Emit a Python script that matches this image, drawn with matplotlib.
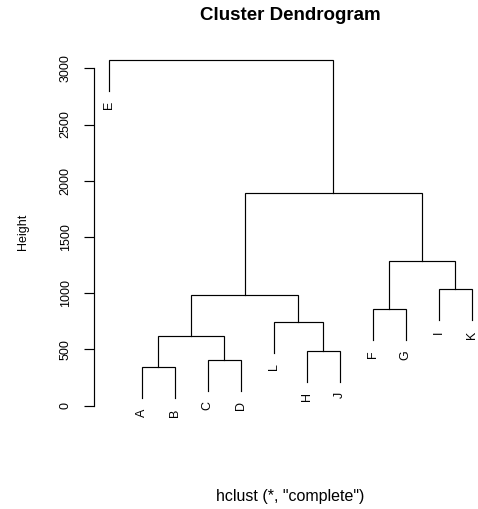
import matplotlib
matplotlib.use("Agg")
import matplotlib.pyplot as plt

# leaves in the order they are drawn, left to right
leaf_labels = ["E", "A", "B", "C", "D", "L", "H", "J", "F", "G", "I", "K"]

# merges (complete linkage), in order of height
merge_left = ["A", "C", "H", "AB", "L", "F", "ABCD", "I", "FG", "ABCDLHJ", "E"]
merge_right = ["B", "D", "J", "CD", "HJ", "G", "LHJ", "K", "IK", "FGIK", "ABCDLHJFGIK"]
merge_height = [341, 404, 486, 620, 744, 857, 982, 1035, 1287, 1891, 3074]

y_ticks = [0, 500, 1000, 1500, 2000, 2500, 3000]

plt.rcParams["font.family"] = ["Liberation Sans", "DejaVu Sans"]

W, H = 478, 509
fig = plt.figure(figsize=(W / 100, H / 100), dpi=100)
# axes area in pixels (left, right, top, bottom) -- right edge runs past the figure like the original
left_px, right_px, top_px, bot_px = 94.3, 486.2, 50, 420
ax = fig.add_axes([left_px / W, 1 - bot_px / H, (right_px - left_px) / W, (bot_px - top_px) / H])

hang = 0.1 * (max(merge_height) - min(merge_height))

xpos = {lab: i + 1 for i, lab in enumerate(leaf_labels)}
ypos = {}
for a, b, h in zip(merge_left, merge_right, merge_height):
    ya = ypos.get(a, h - hang)
    yb = ypos.get(b, h - hang)
    xa, xb = xpos[a], xpos[b]
    ax.plot([xa, xa, xb, xb], [ya, h, h, yb], color="black", lw=0.85, solid_joinstyle="miter", clip_on=False)
    xpos[a + b] = (xa + xb) / 2
    ypos[a + b] = h
    for child, yc in ((a, ya), (b, yb)):
        if child in leaf_labels:
            ax.annotate(child, (xpos[child], yc), xytext=(0, -7.5), textcoords="offset points",
                        rotation=90, ha="center", va="top", fontsize=9)

ax.set_xlim(0.564, 12.44)
ax.set_ylim((405.7 - bot_px) / 0.11247, (405.7 - top_px) / 0.11247)

for s in ["top", "right", "bottom"]:
    ax.spines[s].set_visible(False)
ax.spines["left"].set_bounds(0, 3000)
ax.spines["left"].set_linewidth(0.85)
ax.set_xticks([])
ax.set_yticks(y_ticks)
ax.set_yticklabels([str(t) for t in y_ticks], rotation=90, va="center", fontsize=9)
ax.tick_params(axis="y", length=7.2, width=0.85, pad=9)

fig.text(290 / W, 1 - 16 / H, "Cluster Dendrogram", ha="center", va="center", fontsize=13.5, fontweight="bold")
fig.text(290 / W, 1 - 497 / H, 'hclust (*, "complete")', ha="center", va="center", fontsize=11.5)
fig.text(23 / W, 1 - 232 / H, "Height", ha="center", va="center", rotation=90, fontsize=9)

fig.savefig("out.png", dpi=100)
